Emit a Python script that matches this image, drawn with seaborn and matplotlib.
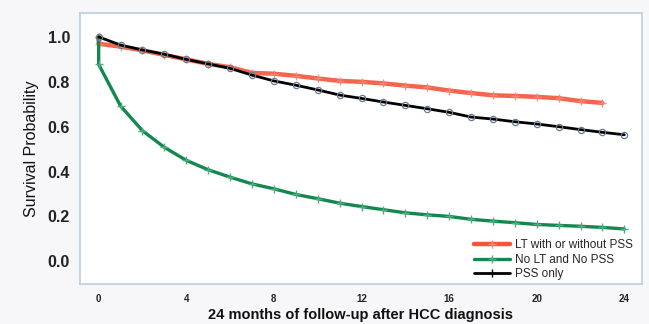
import pandas as pd
import matplotlib.pyplot as plt
import seaborn as sns
from matplotlib.lines import Line2D

# -------- DATA --------
months = list(range(0, 25))

# LT with or without PSS (follow-up ends at 23 months)
lt_months = [0] + list(range(0, 24))
lt_surv = [1.0, 0.97, 0.957, 0.94, 0.92, 0.90, 0.88, 0.865, 0.84, 0.836, 0.827, 0.815,
           0.804, 0.80, 0.793, 0.783, 0.775, 0.761, 0.75, 0.74, 0.737, 0.733, 0.727,
           0.714, 0.706]

# No LT and No PSS
nolt_months = [0] + months
nolt_surv = [1.0, 0.878, 0.692, 0.582, 0.508, 0.450, 0.408, 0.375, 0.345, 0.323, 0.298,
             0.279, 0.259, 0.244, 0.230, 0.216, 0.207, 0.200, 0.187, 0.179, 0.172,
             0.164, 0.160, 0.156, 0.151, 0.144]

# PSS only
pss_months = months
pss_surv = [1.0, 0.964, 0.942, 0.923, 0.90, 0.88, 0.86, 0.83, 0.804, 0.785, 0.764,
            0.741, 0.726, 0.71, 0.695, 0.68, 0.664, 0.643, 0.634, 0.622, 0.612,
            0.60, 0.587, 0.575, 0.564]

labels = ["LT with or without PSS", "No LT and No PSS", "PSS only"]
colors = ["#f2553a", "#14874f", "#000000"]

df = pd.concat([
    pd.DataFrame({"Month": lt_months, "Survival": lt_surv, "Group": labels[0]}),
    pd.DataFrame({"Month": nolt_months, "Survival": nolt_surv, "Group": labels[1]}),
    pd.DataFrame({"Month": pss_months, "Survival": pss_surv, "Group": labels[2]}),
], ignore_index=True)

# -------- PLOT --------
sns.set_style("white")
plt.rcParams["font.family"] = ["Liberation Sans", "DejaVu Sans"]

fig = plt.figure(figsize=(6.49, 3.24), dpi=100, facecolor="#f7f7f9")
ax = fig.add_axes([0.123, 0.123, 0.866, 0.837])
ax.set_facecolor("white")

styles = {
    labels[0]: dict(linewidth=3.2, marker="+", markersize=6, markeredgewidth=1.0,
                    markeredgecolor="#f58a78", alpha=0.9),
    labels[1]: dict(linewidth=2.4, marker="+", markersize=6, markeredgewidth=1.0,
                    markeredgecolor="#4fae7d"),
    labels[2]: dict(linewidth=2.0, marker="o", markersize=4.5, markeredgewidth=0.9,
                    markerfacecolor="none", markeredgecolor="#6a7a90"),
}

for lab, col in zip(labels, colors):
    sub = df[df["Group"] == lab]
    sns.lineplot(data=sub, x="Month", y="Survival", estimator=None, sort=False,
                 color=col, ax=ax, **styles[lab])

ax.set_xlim(-0.86, 24.8)
ax.set_ylim(-0.102, 1.107)
ax.set_xticks([0, 4, 8, 12, 16, 20, 24])
ax.set_yticks([0.0, 0.2, 0.4, 0.6, 0.8, 1.0])
ax.set_yticklabels(["0.0", "0.2", "0.4", "0.6", "0.8", "1.0"])

for s in ax.spines.values():
    s.set_color("#bccfdc")
    s.set_linewidth(1.2)

ax.tick_params(axis="both", direction="out", length=4, color="#bccfdc", width=1)
ax.tick_params(axis="y", labelsize=11.5, pad=3)
ax.tick_params(axis="x", labelsize=7, pad=3)
for t in ax.get_yticklabels() + ax.get_xticklabels():
    t.set_fontweight("bold")
    t.set_color("#222222")

ax.set_xlabel("24 months of follow-up after HCC diagnosis", fontsize=10.5,
              fontweight="bold", labelpad=3, color="#111111")
ax.set_ylabel("Survival Probability", fontsize=11.5, labelpad=6, color="#111111")

handles = [
    Line2D([], [], color=colors[0], linewidth=3.2, marker="+", markersize=6,
           markeredgecolor="#f58a78"),
    Line2D([], [], color=colors[1], linewidth=2.4, marker="+", markersize=6,
           markeredgecolor="#4fae7d"),
    Line2D([], [], color=colors[2], linewidth=2.0, marker="+", markersize=6),
]
ax.legend(handles, labels, loc="lower right", bbox_to_anchor=(1.0, -0.02),
          frameon=False, fontsize=8.5, handlelength=3.0, handletextpad=0.4,
          labelspacing=0.2, borderaxespad=0.4, markerfirst=True)

plt.savefig("out.png", dpi=100, facecolor=fig.get_facecolor())
